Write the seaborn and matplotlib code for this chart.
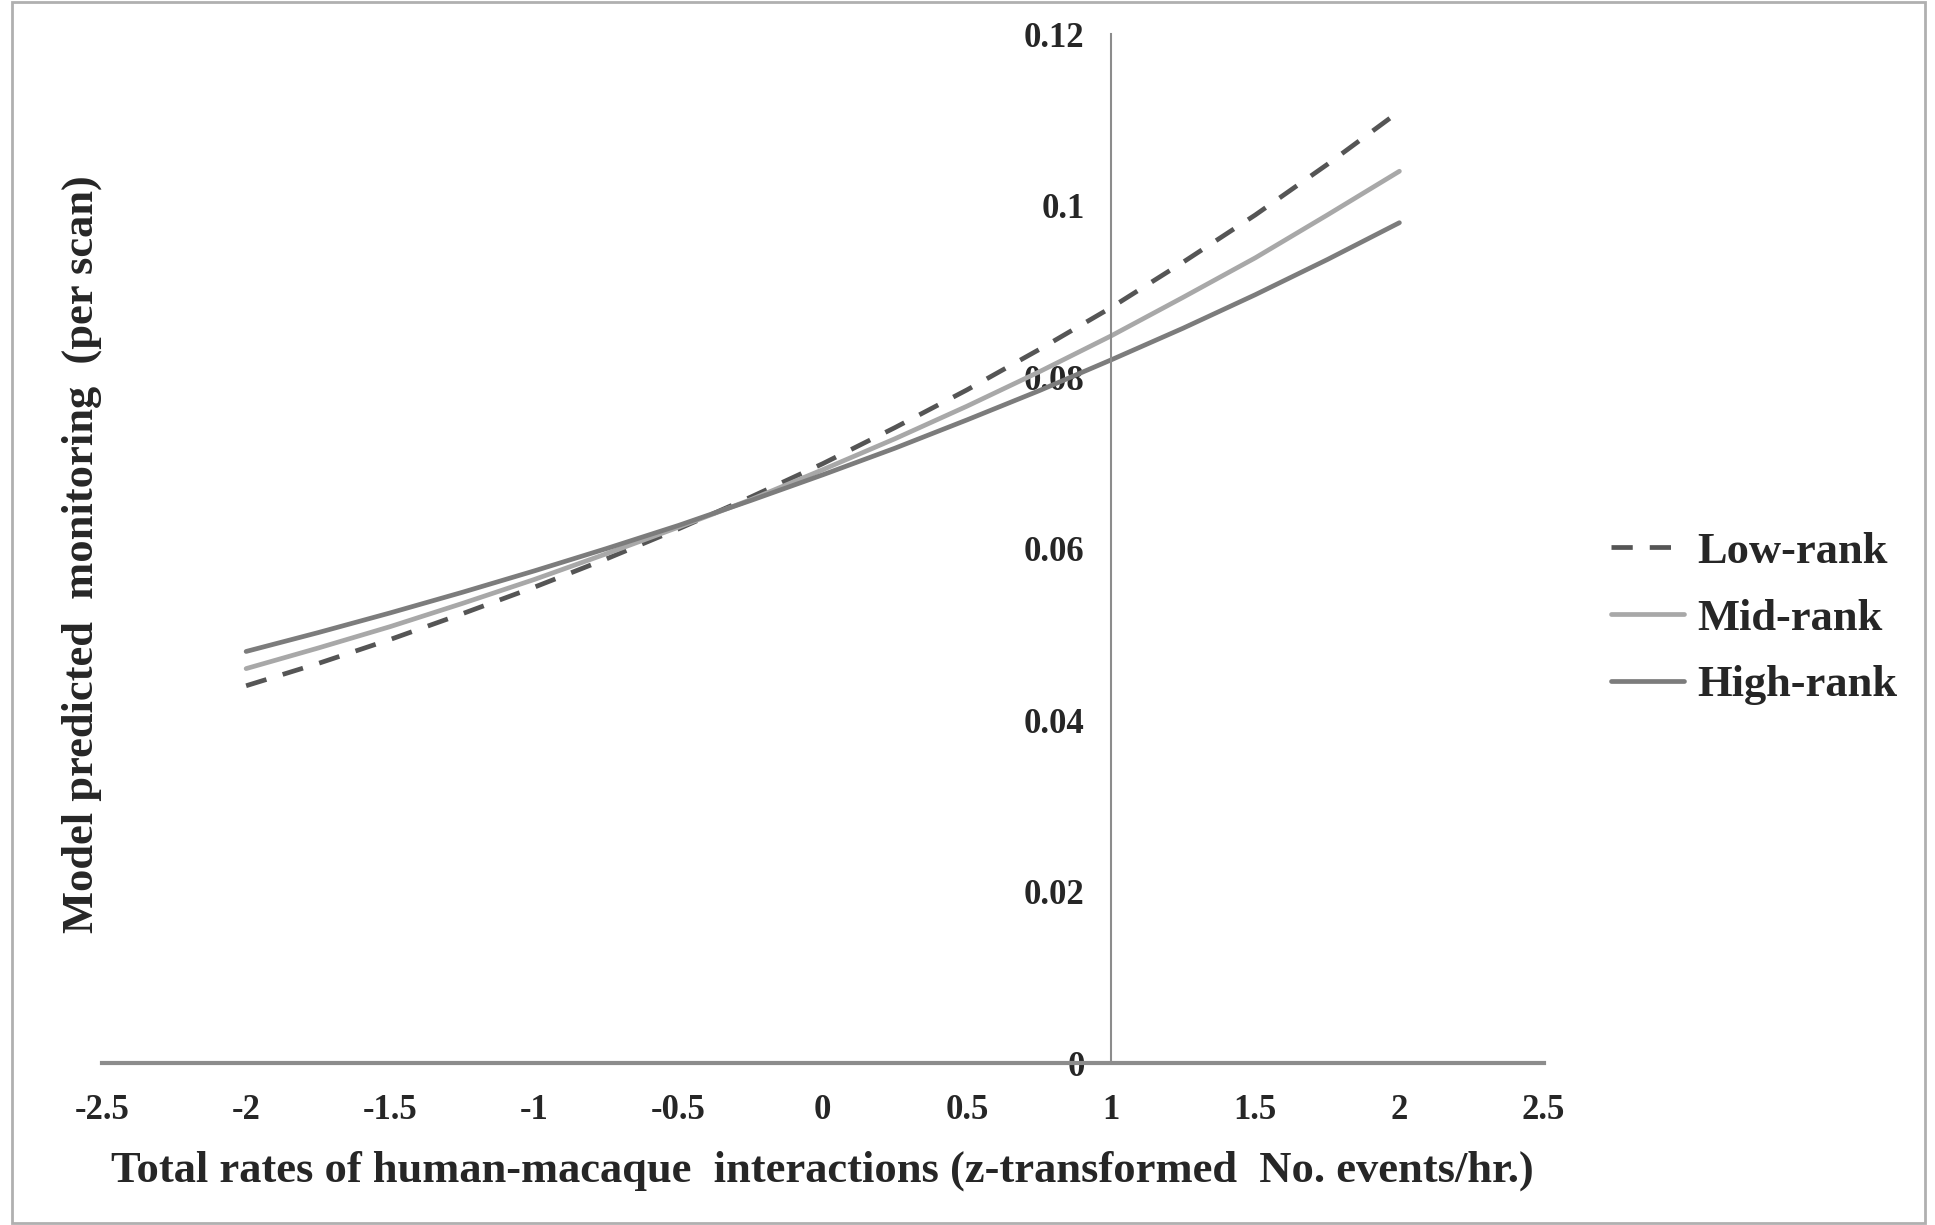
import numpy as np
import pandas as pd
import matplotlib
matplotlib.use("Agg")
import matplotlib.pyplot as plt
import seaborn as sns
from matplotlib.patches import Rectangle

# values
x_vals = [-2.0, -1.75, -1.5, -1.25, -1.0, -0.75, -0.5, -0.25, 0.0,
          0.25, 0.5, 0.75, 1.0, 1.25, 1.5, 1.75, 2.0]
low_rank = [0.0440, 0.0466, 0.0494, 0.0524, 0.0555, 0.0588, 0.0623, 0.0660, 0.0699,
            0.0741, 0.0785, 0.0832, 0.0881, 0.0934, 0.0989, 0.1048, 0.1110]
mid_rank = [0.0460, 0.0484, 0.0509, 0.0536, 0.0564, 0.0594, 0.0625, 0.0657, 0.0692,
            0.0728, 0.0766, 0.0806, 0.0848, 0.0893, 0.0939, 0.0989, 0.1040]
high_rank = [0.0480, 0.0502, 0.0525, 0.0549, 0.0574, 0.0600, 0.0627, 0.0656, 0.0686,
             0.0717, 0.0750, 0.0784, 0.0820, 0.0857, 0.0896, 0.0937, 0.0980]
series_names = ["Low-rank", "Mid-rank", "High-rank"]
x_ticks = [-2.5, -2, -1.5, -1, -0.5, 0, 0.5, 1, 1.5, 2, 2.5]
y_ticks = [0, 0.02, 0.04, 0.06, 0.08, 0.1, 0.12]

df = pd.DataFrame({
    "x": x_vals * 3,
    "y": low_rank + mid_rank + high_rank,
    "rank": [n for n in series_names for _ in x_vals],
})

sns.set_style("white")
plt.rcParams["font.family"] = ["Liberation Serif", "DejaVu Serif"]
plt.rcParams["font.weight"] = "bold"

fig = plt.figure(figsize=(19.35, 12.25), dpi=100)
ax = fig.add_axes([0.0527, 0.1322, 0.7450, 0.8400])

palette = {"Low-rank": "#555555", "Mid-rank": "#a8a8a8", "High-rank": "#7c7c7c"}
sns.lineplot(data=df, x="x", y="y", hue="rank", style="rank", palette=palette,
             dashes={"Low-rank": (4.5, 3.6), "Mid-rank": "", "High-rank": ""},
             linewidth=3.4, ax=ax, legend=True)

ax.set_xlim(-2.5, 2.5)
ax.set_ylim(0, 0.12)
ax.set_xticks(x_ticks)
ax.set_yticks(y_ticks)
ax.set_xticklabels([f"{v:g}" for v in x_ticks])
ax.set_yticklabels([f"{v:g}" for v in y_ticks])

for s in ["top", "right"]:
    ax.spines[s].set_visible(False)
ax.spines["left"].set_position(("data", 1))
for s in ["left", "bottom"]:
    ax.spines[s].set_color("#8c8c8c")
    ax.spines[s].set_linewidth(1.5)
ax.spines["bottom"].set_linewidth(3)
ax.tick_params(axis="both", direction="out", length=7, width=1.2, color="#8c8c8c",
               labelsize=25, pad=12)
ax.tick_params(axis="x", pad=15)

ax.set_xlabel("Total rates of human-macaque  interactions (z-transformed  No. events/hr.)",
              fontsize=32, fontweight="bold", labelpad=17)
ax.set_ylabel("")
fig.text(0.042, 0.548, "Model predicted  monitoring  (per scan)", rotation=90,
         fontsize=32, fontweight="bold", ha="center", va="center")

handles, labels = ax.get_legend_handles_labels()
ax.legend(handles, labels, loc="center left", bbox_to_anchor=(0.8326, 0.495),
          bbox_transform=fig.transFigure, frameon=False, fontsize=32,
          borderpad=0, borderaxespad=0, handlelength=1.65, handletextpad=0.3,
          labelspacing=0.6)

fig.patches.append(Rectangle((0.006, 0.002), 0.989, 0.996, transform=fig.transFigure,
                             fill=False, edgecolor="#b0b0b0", linewidth=2))

fig.savefig("out.png", dpi=100)
